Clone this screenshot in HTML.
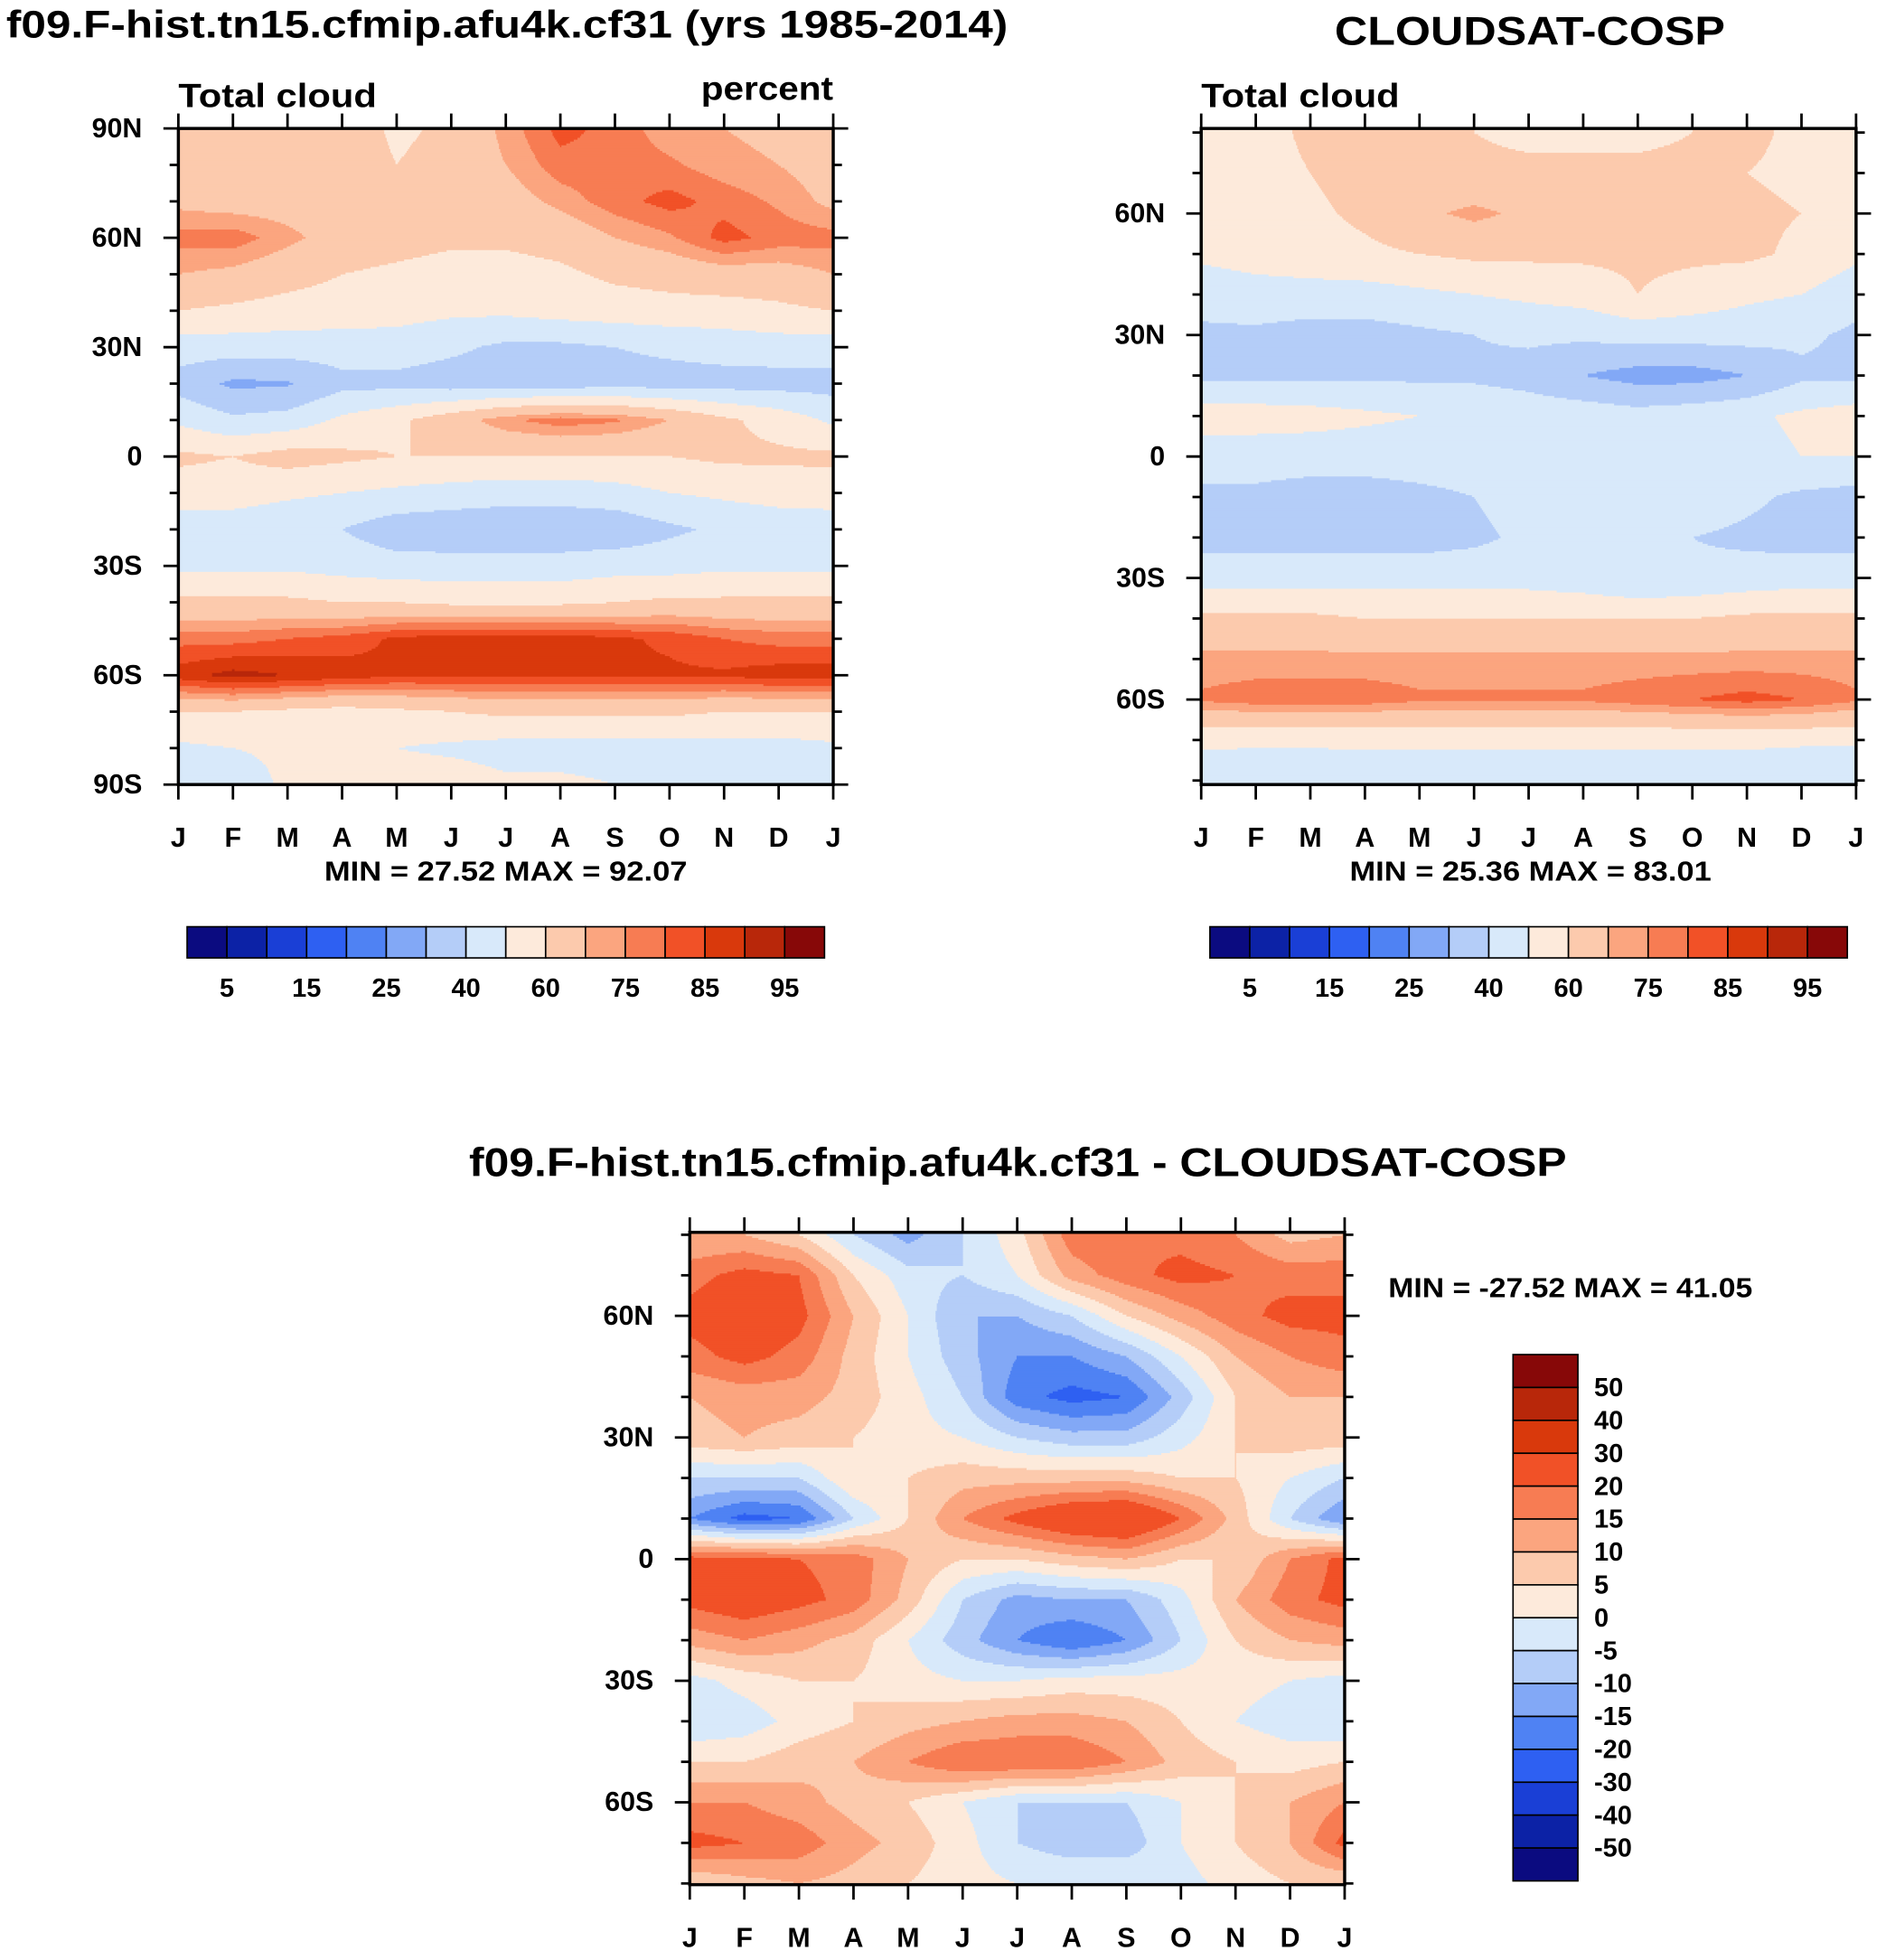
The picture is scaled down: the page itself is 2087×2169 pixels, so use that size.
<!DOCTYPE html>
<html><head><meta charset="utf-8"><style>
html,body{margin:0;padding:0;background:#fff;}
svg{display:block;font-family:"Liberation Sans",Arial,sans-serif;font-weight:bold;}
</style></head><body>
<svg id="fig" width="2087" height="2169" viewBox="0 0 1512 1571.4" preserveAspectRatio="none" xmlns="http://www.w3.org/2000/svg">
<text x="5" y="30" font-size="31" textLength="803" lengthAdjust="spacingAndGlyphs">f09.F-hist.tn15.cfmip.afu4k.cf31 (yrs 1985-2014)</text>
<text x="143" y="86" font-size="27" textLength="159" lengthAdjust="spacingAndGlyphs">Total cloud</text>
<text x="562" y="80" font-size="27" textLength="106" lengthAdjust="spacingAndGlyphs">percent</text>
<text x="260" y="706" font-size="22" textLength="291" lengthAdjust="spacingAndGlyphs">MIN =  27.52 MAX =  92.07</text>
<text x="1070" y="36" font-size="32" textLength="313" lengthAdjust="spacingAndGlyphs">CLOUDSAT-COSP</text>
<text x="963" y="86" font-size="27" textLength="159" lengthAdjust="spacingAndGlyphs">Total cloud</text>
<text x="1082" y="706" font-size="22" textLength="290" lengthAdjust="spacingAndGlyphs">MIN =  25.36 MAX =  83.01</text>
<text x="376" y="943" font-size="32" textLength="880" lengthAdjust="spacingAndGlyphs">f09.F-hist.tn15.cfmip.afu4k.cf31 - CLOUDSAT-COSP</text>
<text x="1113" y="1040" font-size="22" textLength="292" lengthAdjust="spacingAndGlyphs">MIN = -27.52 MAX =  41.05</text>
</svg>
<script>
const months=['J','F','M','A','M','J','J','A','S','O','N','D','J'];
const lats1=[90,80,70,60,50,40,30,20,10,0,-10,-20,-30,-40,-50,-60,-70,-80,-90];
const grid1=[
[66,66,66,66,58,62,72,82,78,72,70,68,66],
[66,66,66,66,60,64,70,78,78,76,72,70,66],
[68,66,66,65,64,64,66,72,78,82,78,74,68],
[77,78,72,66,64,62,62,64,70,74,82,78,77],
[70,68,64,60,58,56,56,58,62,64,66,66,70],
[60,58,56,55,54,52,52,54,55,56,56,58,60],
[45,45,45,45,45,42,38,38,40,42,44,45,45],
[36,28,29,37,37,35,35,35,36,36,36,36,36],
[48,42,44,52,58,66,74,78,76,70,62,56,48],
[62,60,64,62,60,60,60,60,60,60,62,62,62],
[55,55,52,50,48,46,44,44,46,50,52,54,55],
[44,44,42,40,34,33,33,33,33,38,42,44,44],
[48,48,48,46,44,44,44,44,46,46,48,48,48],
[62,62,62,60,60,58,58,58,60,62,62,62,62],
[78,78,80,82,86,88,88,88,86,84,80,78,78],
[88,92,90,88,86,86,86,86,86,86,86,88,88],
[60,60,58,56,58,60,62,62,62,62,60,60,60],
[48,50,52,55,50,48,46,46,46,46,46,46,48],
[40,44,52,56,56,56,52,52,50,48,44,40,40]];
const lats2=[80,70,60,50,40,30,20,10,0,-10,-20,-30,-40,-50,-60,-70,-80];
const grid2=[
[56,56,62,70,66,60,58,58,58,60,62,58,56],
[56,56,60,64,64,62,62,62,62,62,60,58,56],
[54,55,58,62,68,72,68,64,62,62,62,60,54],
[52,54,56,58,60,62,62,62,62,62,62,58,52],
[44,46,46,46,48,50,52,54,60,56,52,50,44],
[38,38,36,36,38,40,42,42,44,44,44,42,38],
[38,38,38,38,38,38,36,30,26,26,30,38,38],
[55,55,54,52,50,48,46,46,44,46,48,52,55],
[44,44,44,44,44,44,44,46,46,46,46,50,50],
[38,38,36,36,38,40,44,46,46,46,42,38,36],
[36,36,36,36,36,38,42,48,40,40,38,36,36],
[46,46,46,46,46,46,46,44,40,42,44,46,46],
[62,62,62,60,60,60,60,60,60,60,62,62,62],
[72,72,72,72,72,72,72,72,72,72,72,72,72],
[76,78,78,78,76,76,76,76,78,80,82,80,76],
[52,52,52,52,52,52,52,52,52,52,52,52,52],
[44,42,42,44,44,44,44,44,44,44,44,40,40]];
const grid3=[
[10,10,5,-5,-12,-5,3,18,20,18,15,8,10],
[18,22,20,5,-3,-5,0,12,18,22,20,18,18],
[22,25,22,10,0,-10,-10,-5,5,12,18,22,22],
[18,22,18,8,0,-8,-15,-15,-10,0,10,15,18],
[10,12,12,8,2,-5,-18,-22,-20,-8,5,10,10],
[8,10,8,5,2,0,-5,-8,-8,-2,5,8,8],
[-5,-5,-5,5,5,8,8,8,8,5,5,0,-5],
[-15,-22,-20,-5,5,15,22,28,30,20,8,-5,-15],
[22,22,20,18,10,5,5,8,10,5,5,15,22],
[22,25,22,18,8,-5,-12,-10,-10,-2,10,18,22],
[12,15,12,8,0,-8,-15,-20,-15,-5,5,10,12],
[-2,2,5,5,2,0,0,2,2,2,2,0,-2],
[-5,-3,2,5,8,10,12,12,10,5,0,-3,-5],
[5,5,8,10,15,20,20,20,15,8,5,3,5],
[15,15,12,8,5,0,-5,-5,-5,0,5,10,15],
[22,20,18,12,8,2,-5,-8,-8,0,5,10,22],
[5,8,10,8,5,2,0,0,0,-2,2,5,5]];
const levelsAbs=[5,10,15,20,25,30,40,50,60,70,75,80,85,90,95];
const levelsDiff=[-50,-40,-30,-20,-15,-10,-5,0,5,10,15,20,30,40,50];
const absTickLabels=['5','15','25','40','60','75','85','95'];
const diffTickLabels=['50','40','30','20','15','10','5','0','-5','-10','-15','-20','-30','-40','-50'];
const colors=['#0b0b80','#0c22a6','#1a3fd6','#2e60f2','#4f82f3','#82a8f6','#b4cdf8','#d8e9fa','#fdeadb','#fccaad','#fba57f','#f77c53','#f15127','#d9390c','#b8270a','#870808'];

const NS='http://www.w3.org/2000/svg';
const svg=document.getElementById('fig');
function mk(tag,attrs,parent){const e=document.createElementNS(NS,tag);for(const k in attrs)e.setAttribute(k,attrs[k]);(parent||svg).appendChild(e);return e;}
function colorIdx(v,levels){let i=0;while(i<levels.length&&v>=levels[i])i++;return i;}
function sample(grid,lats,m,lat){
  let r=0;const n=lats.length;
  if(lat>=lats[0])return rowAt(grid[0],m);
  if(lat<=lats[n-1])return rowAt(grid[n-1],m);
  while(r<n-2&&lat<lats[r+1])r++;
  const t=(lats[r]-lat)/(lats[r]-lats[r+1]);
  return rowAt(grid[r],m)*(1-t)+rowAt(grid[r+1],m)*t;
}
function rowAt(row,m){const i=Math.min(Math.floor(m),11);const t=m-i;return row[i]*(1-t)+row[i+1]*t;}

function panel(p){
  const g=mk('g',{});
  
  
  const xS=m=>p.x0+m*p.w/12;
  const yS=lat=>p.y0+(p.latTop-lat)/(p.latTop-p.latBot)*p.h;
  const step=1.5;
  const fill=mk('g',{},g);
  
  
  for(let y=0;y<p.h;y+=step){
    const lat=p.latTop-(y+step/2)/p.h*(p.latTop-p.latBot);
    let start=0,cur=-1;
    for(let x=0;x<=p.w;x+=1){
      let ci=-2;
      if(x<p.w){const m=(x+0.5)/p.w*12;ci=colorIdx(sample(p.grid,p.lats,m,lat),p.levels);}
      if(ci!==cur){
        if(cur>=0){const r=mk('rect',{x:p.x0+start,y:p.y0+y,width:x-start+0.6,height:step+0.6,fill:colors[cur]},fill);
          
          }
        cur=ci;start=x;
      }
    }
  }
  mk('rect',{x:p.x0,y:p.y0,width:p.w,height:p.h,fill:'none',stroke:'#000','stroke-width':2.5},g);
  for(let i=0;i<=12;i++){
    const x=xS(i);
    mk('line',{x1:x,y1:p.y0,x2:x,y2:p.y0-12,stroke:'#000','stroke-width':2},g);
    mk('line',{x1:x,y1:p.y0+p.h,x2:x,y2:p.y0+p.h+12,stroke:'#000','stroke-width':2},g);
    const t=mk('text',{x:x,y:p.y0+p.h+50,'font-size':22,'text-anchor':'middle'},g);
    t.textContent=months[i];
    
    
  }
  for(let lat=-90;lat<=90;lat+=10){
    if(lat>p.latTop+0.01||lat<p.latBot-0.01)continue;
    const y=yS(lat);const major=lat%30===0;const L=major?12:7;
    mk('line',{x1:p.x0,y1:y,x2:p.x0-L,y2:y,stroke:'#000','stroke-width':2},g);
    mk('line',{x1:p.x0+p.w,y1:y,x2:p.x0+p.w+L,y2:y,stroke:'#000','stroke-width':2},g);
    if(major){
      const t=mk('text',{x:p.x0-29,y:y+7,'font-size':22,'text-anchor':'end'},g);
      t.textContent=lat===0?'0':(Math.abs(lat)+(lat>0?'N':'S'));
      
      
    }
  }
}
panel({name:'model',x0:143,y0:103,w:525,h:526,latTop:90,latBot:-90,lats:lats1,grid:grid1,levels:levelsAbs});
panel({name:'cloudsat',x0:963,y0:103,w:525,h:526,latTop:81,latBot:-81,lats:lats2,grid:grid2,levels:levelsAbs});
panel({name:'difference',x0:553,y0:988,w:525,h:523,latTop:80.6,latBot:-80.3,lats:lats2,grid:grid3,levels:levelsDiff});

function hbar(x0,name){
  const g=mk('g',{});
  
  
  const w=511/16;
  for(let i=0;i<16;i++){
    const r=mk('rect',{x:x0+i*w,y:743,width:w,height:25,fill:colors[i],stroke:'#000','stroke-width':1.2},g);
    
    
  }
  absTickLabels.forEach((s,k)=>{
    const t=mk('text',{x:x0+(2*k+1)*w,y:799,'font-size':21,'text-anchor':'middle'},g);
    t.textContent=s;
    
    
  });
}
hbar(150,'model-colorbar');
hbar(970,'cloudsat-colorbar');
(function(){
  const g=mk('g',{});
  
  
  const h=422/16;
  for(let i=0;i<16;i++){
    const r=mk('rect',{x:1213,y:1086+i*h,width:52,height:h,fill:colors[15-i],stroke:'#000','stroke-width':1.2},g);
    
    
  }
  diffTickLabels.forEach((s,k)=>{
    const t=mk('text',{x:1278,y:1086+(k+1)*h+7,'font-size':21},g);
    t.textContent=s;
    
    
  });
})();
</script>
</body></html>
